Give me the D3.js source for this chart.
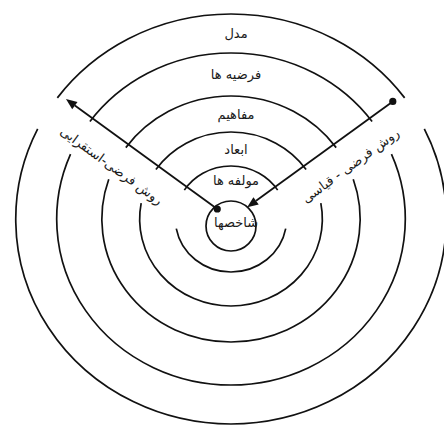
<!DOCTYPE html>
<html>
<head>
<meta charset="utf-8">
<script src="https://cdn.jsdelivr.net/npm/d3@7"></script>
<style>
  html, body { margin: 0; padding: 0; background: #fff; }
  svg { display: block; }
  text { font-family: "DejaVu Sans", sans-serif; fill: #1a1a1a; }
</style>
</head>
<body>
<svg id="chart" width="444" height="426"></svg>
<script>
// ---- data ----
const levels = ["شاخصها", "مولفه ها", "ابعاد", "مفاهیم", "فرضیه ها", "مدل"];
const methods = ["روش فرضی-استقرایی", "روش فرضی - قیاسی"];

// ---- layout (not data) ----
const W = 444, H = 426;
const cx = 231, cy = 219, sx = 1.05;
const radius = d3.scaleOrdinal().domain(levels).range([25, 53, 87, 123, 166, 205]);
const innerCy = 226;
const arrowDeg = 54;                       // screen angle of the arrows from vertical
const gapStartDeg = [null, 100, 80, 72, 68, 65]; // where lower arcs begin (screen deg from top)
const deg = Math.PI / 180;

const svg = d3.select("#chart");
svg.append("rect").attr("width", W).attr("height", H).attr("fill", "#fff");

// param angle on the stretched circle for a given screen angle
function paramAngle(phiDeg) {
  const phi = phiDeg * deg;
  return Math.atan2(Math.sin(phi) / sx, Math.cos(phi));
}

const g = svg.append("g").attr("transform", `translate(${cx},${cy}) scale(${sx},1)`);

levels.forEach((lv, i) => {
  const r = radius(lv);
  if (i === 0) return;
  // top arc, between the arrows (a little past them)
  const te = paramAngle(arrowDeg) + 4 / r;
  const p1 = d3.path();
  p1.arc(0, 0, r, -Math.PI / 2 - te, -Math.PI / 2 + te);
  g.append("path").attr("d", p1.toString())
    .attr("fill", "none").attr("stroke", "#111").attr("stroke-width", 1.7)
    .attr("vector-effect", "non-scaling-stroke");
  // lower arc
  const ts = paramAngle(gapStartDeg[i]);
  const p2 = d3.path();
  p2.arc(0, 0, r, -Math.PI / 2 + ts, -Math.PI / 2 + 2 * Math.PI - ts);
  g.append("path").attr("d", p2.toString())
    .attr("fill", "none").attr("stroke", "#111").attr("stroke-width", 1.7)
    .attr("vector-effect", "non-scaling-stroke");
});

// innermost circle
svg.append("circle").attr("cx", cx).attr("cy", innerCy).attr("r", radius(levels[0]))
  .attr("fill", "none").attr("stroke", "#111").attr("stroke-width", 1.7);

// level labels
levels.forEach((lv, i) => {
  let y;
  if (i === 0) y = 222;
  else y = cy - (radius(levels[i - 1]) + radius(lv)) / 2 + (i === 1 ? 0 : 0);
  svg.append("text").attr("x", 236).attr("y", y)
    .attr("text-anchor", "middle").attr("dominant-baseline", "central")
    .attr("font-size", 13).text(lv);
});

// arrows
function pt(phiDeg, d) {
  return [cx + d * Math.sin(phiDeg * deg), cy - d * Math.cos(phiDeg * deg)];
}
function arrow(from, to) {
  const dx = to[0] - from[0], dy = to[1] - from[1];
  const L = Math.hypot(dx, dy), ux = dx / L, uy = dy / L;
  const hl = 11, hw = 4.5;
  const base = [to[0] - ux * hl, to[1] - uy * hl];
  svg.append("line").attr("x1", from[0]).attr("y1", from[1])
    .attr("x2", base[0]).attr("y2", base[1])
    .attr("stroke", "#111").attr("stroke-width", 1.8);
  svg.append("path").attr("d", d3.line()([to,
      [base[0] - uy * hw, base[1] + ux * hw],
      [base[0] + uy * hw, base[1] - ux * hw]]) + "Z")
    .attr("fill", "#111");
  svg.append("circle").attr("cx", from[0]).attr("cy", from[1]).attr("r", 3.6).attr("fill", "#111");
}
arrow(pt(-arrowDeg, 17), pt(-arrowDeg, 204));
arrow(pt(arrowDeg, 200), pt(arrowDeg, 20));

// method labels along arrows
[[-1, methods[0]], [1, methods[1]]].forEach(([s, label]) => {
  const a = arrowDeg * deg;
  const ux = s * Math.sin(a), uy = -Math.cos(a);
  const nx = s * Math.cos(a), ny = Math.sin(a);
  const x = cx + 128 * ux + 27 * nx, y = cy + 128 * uy + 27 * ny;
  svg.append("text").attr("transform", `translate(${x},${y}) rotate(${-s * (90 - arrowDeg)})`)
    .attr("text-anchor", "middle").attr("dominant-baseline", "central")
    .attr("font-size", 13).text(label);
});
</script>
</body>
</html>
